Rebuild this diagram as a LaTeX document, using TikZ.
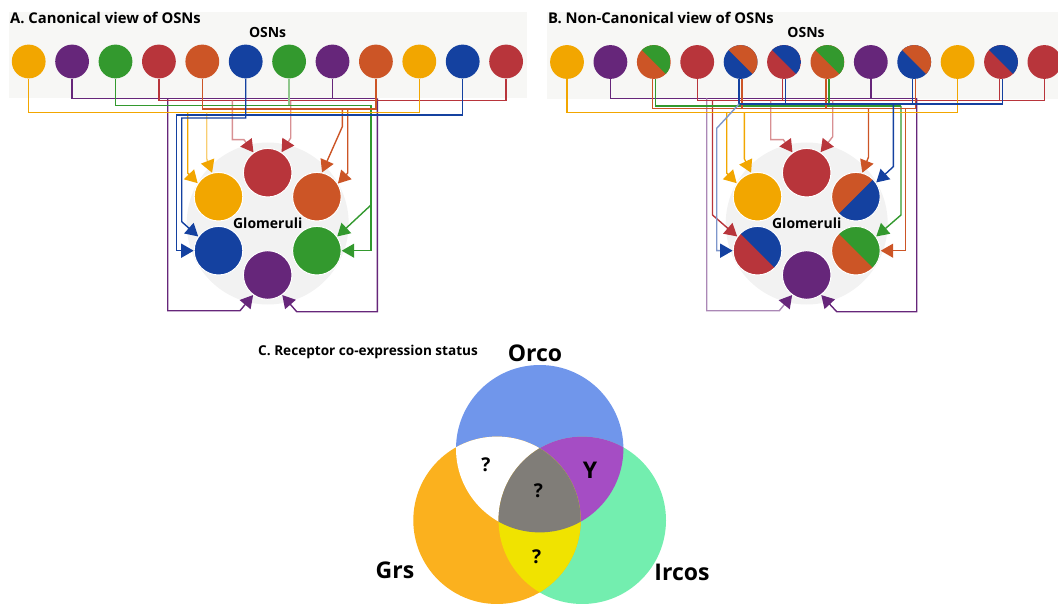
\documentclass[tikz,border=0pt]{standalone}
\usepackage{fontspec}
\setmainfont{Open Sans}
\usetikzlibrary{arrows.meta}
\definecolor{cY}{HTML}{F2A600}
\definecolor{cP}{HTML}{66267A}
\definecolor{cG}{HTML}{33992E}
\definecolor{cR}{HTML}{B8353B}
\definecolor{cO}{HTML}{CC5526}
\definecolor{cB}{HTML}{1441A0}
\definecolor{panelbg}{HTML}{F7F7F5}
\definecolor{glombg}{HTML}{F2F2F2}
\definecolor{vOrco}{HTML}{7096EB}
\definecolor{vGrs}{HTML}{FBB11E}
\definecolor{vIrc}{HTML}{73EEAF}
\definecolor{vPur}{HTML}{A54DC4}
\definecolor{vGry}{HTML}{807D78}
\definecolor{vYel}{HTML}{F0E300}
\pgfdeclarelayer{back}
\pgfdeclarelayer{wires}
\pgfsetlayers{back,wires,main}
\begin{document}
\begin{tikzpicture}[x=1pt,y=-1pt,
  osn/.style={circle,inner sep=0,minimum size=33.8pt,fill=#1},
  glom/.style={circle,inner sep=0,minimum size=48.6pt,draw=white,line width=1pt,fill=#1},
  bsplit/.style 2 args={fill=#1,path picture={\fill[#2] (path picture bounding box.north west) -- (path picture bounding box.north east) -- (path picture bounding box.south east) -- cycle;}},
  fsplit/.style 2 args={fill=#1,path picture={\fill[#2] (path picture bounding box.south west) -- (path picture bounding box.south east) -- (path picture bounding box.north east) -- cycle;}},
  wire/.style={draw=#1,line width=1.4pt},
  pwire/.style={draw=#1!55!white,line width=1.4pt},
  tip/.style={-{Triangle[length=12.5pt,width=14pt,color=#1]}},
  ttl/.style={font=\bfseries\fontsize{14.8}{16}\selectfont},
  sub/.style={font=\bfseries\fontsize{14}{16}\selectfont},
  big/.style={font=\bfseries\fontsize{23}{25}\selectfont},
  qm/.style={font=\bfseries\fontsize{19}{21}\selectfont}
]
\useasboundingbox (0,0) rectangle (1058,604);

% ---------- panel backgrounds
\begin{pgfonlayer}{back}
\fill[panelbg] (8.5,11.8) rectangle (527,98);
\fill[panelbg] (547,11.8) rectangle (1058,99);
\fill[glombg] (267.7,223.5) circle[radius=81pt];
\fill[glombg] (806.7,223.5) circle[radius=81pt];
\end{pgfonlayer}

% ---------- Panel A OSNs
\node[osn=cY] (a1) at (28.7,61.5) {};
\node[osn=cP] (a2) at (72.1,61.5) {};
\node[osn=cG] (a3) at (115.5,61.5) {};
\node[osn=cR] (a4) at (158.9,61.5) {};
\node[osn=cO] (a5) at (202.3,61.5) {};
\node[osn=cB] (a6) at (245.7,61.5) {};
\node[osn=cG] (a7) at (289.1,61.5) {};
\node[osn=cP] (a8) at (332.5,61.5) {};
\node[osn=cO] (a9) at (375.9,61.5) {};
\node[osn=cY] (a10) at (419.3,61.5) {};
\node[osn=cB] (a11) at (462.7,61.5) {};
\node[osn=cR] (a12) at (506.1,61.5) {};

% ---------- Panel A glomeruli
\node[glom=cR] (gAR) at (267.7,172.7) {};
\node[glom=cY] (gAY) at (218.5,196.7) {};
\node[glom=cO] (gAO) at (316.9,196.7) {};
\node[glom=cB] (gAB) at (218.5,250.7) {};
\node[glom=cG] (gAG) at (316.9,250.7) {};
\node[glom=cP] (gAP) at (267.7,275) {};

% ---------- Panel B OSNs
\node[osn=cY] (b1) at (567,62) {};
\node[osn=cP] (b2) at (610.4,62) {};
\node[osn=cO,bsplit={cO}{cG}] (b3) at (653.8,62) {};
\node[osn=cR] (b4) at (697.2,62) {};
\node[osn=cB,bsplit={cB}{cO}] (b5) at (740.6,62) {};
\node[osn=cR,bsplit={cR}{cB}] (b6) at (784,62) {};
\node[osn=cO,bsplit={cO}{cG}] (b7) at (827.4,62) {};
\node[osn=cP] (b8) at (870.8,62) {};
\node[osn=cB,bsplit={cB}{cO}] (b9) at (914.2,62) {};
\node[osn=cY] (b10) at (957.6,62) {};
\node[osn=cR,bsplit={cR}{cB}] (b11) at (1001,62) {};
\node[osn=cR] (b12) at (1044.4,62) {};

% ---------- Panel B glomeruli
\node[glom=cR] (gBR) at (806.7,172.7) {};
\node[glom=cY] (gBY) at (757.5,196.7) {};
\node[glom=cO,fsplit={cO}{cB}] (gBOB) at (855.9,196.7) {};
\node[glom=cR,bsplit={cR}{cB}] (gBRB) at (757.5,250.7) {};
\node[glom=cO,bsplit={cO}{cG}] (gBOG) at (855.9,250.7) {};
\node[glom=cP] (gBP) at (806.7,275) {};

% ---------- wires
\begin{pgfonlayer}{wires}
% A purple
\draw[wire=cP] (a2.south) |- (377.3,98.3);
\draw[wire=cP] (a8.south) -- (a8 |- 0,98.3);
\draw[wire=cP,tip=cP] (167.7,98.3) -- (167.7,310.7) -- (240,310.7) -- (gAP.234);
\draw[wire=cP,tip=cP] (377.3,98.3) -- (377.3,311.7) -- (296.7,311.7) -- (gAP.306);
% A red
\draw[wire=cR] (a4.south) |- (a12 |- 0,100.7) -- (a12.south);
\draw[pwire=cR,tip=cR] (232.3,100.7) -- (232.3,139.7) -- (244,139.7) -- (gAR.125);
\draw[pwire=cR,tip=cR] (290.7,100.7) -- (290.7,138) -- (gAR.56);
% A green
\draw[wire=cG,tip=cG] (a3.south) |- (371,105.3) -- (371,250.7) -- (gAG.0);
\draw[pwire=cG] (a7.south) -- (a7 |- 0,105.3);
\draw[wire=cG,tip=cG] (371,205) -- (gAG.35);
% A orange
\draw[wire=cO] (a5.south) |- (a9 |- 0,109) -- (a9.south);
\draw[wire=cO,tip=cO] (342.3,109) -- (342.3,126.7) -- (gAO.78);
\draw[wire=cO,tip=cO] (347.7,109) -- (347.7,173) -- (gAO.32);
% A yellow
\draw[wire=cY] (a1.south) |- (a10 |- 0,112.7) -- (a10.south);
\draw[wire=cY,tip=cY] (187.7,112.7) -- (187.7,173) -- (gAY.147);
\draw[pwire=cY,tip=cY] (206.7,112.7) -- (206.7,158.7) -- (gAY.105);
% A blue
\draw[wire=cB,tip=cB] (a11.south) |- (176.5,115) -- (176.5,250.7) -- (gAB.180);
\draw[wire=cB,tip=cB] (a6.south) |- (181.7,118) -- (181.7,221.7) -- (gAB.145);

% B purple
\draw[wire=cP] (b2.south) |- (916.7,98.3);
\draw[wire=cP] (b8.south) -- (b8 |- 0,98.3);
\draw[pwire=cP,tip=cP] (706.7,98.3) -- (706.7,310.7) -- (779.3,310.7) -- (gBP.234);
\draw[wire=cP,tip=cP] (916.7,98.3) -- (916.7,311.7) -- (836.7,311.7) -- (gBP.306);
% B red
\draw[wire=cR] (b4.south) |- (b12 |- 0,100.7) -- (b12.south);
\draw[wire=cR] (b6.-95) -- (b6.-95 |- 0,100.7);
\draw[wire=cR] (b11.-95) -- (b11.-95 |- 0,100.7);
\draw[wire=cR,tip=cR] (712.5,100.7) -- (712.5,215) -- (gBRB.145);
\draw[pwire=cR,tip=cR] (770.7,100.7) -- (770.7,139.7) -- (783.3,139.7) -- (gBR.125);
\draw[pwire=cR,tip=cR] (832.7,100.7) -- (832.7,136.7) -- (gBR.56);
% B green
\draw[wire=cG] (b3.-85) |- (901,106);
\draw[wire=cG] (b7.-85) -- (b7.-85 |- 0,106);
\draw[wire=cG,tip=cG] (901,106) -- (901,215) -- (gBOG.35);
% B orange
\draw[wire=cO] (b3.-95) |- (b9.-85 |- 0,108.7) -- (b9.-85);
\draw[wire=cO] (b5.-85) -- (b5.-85 |- 0,108.7);
\draw[wire=cO] (b7.-95) -- (b7.-95 |- 0,108.7);
\draw[wire=cO,tip=cO] (868.5,108.7) -- (868.5,157) -- (gBOB.75);
\draw[wire=cO,tip=cO] (905.5,108.7) -- (905.5,250.7) -- (gBOG.0);
% B yellow
\draw[wire=cY] (b1.south) |- (b10 |- 0,112.5) -- (b10.south);
\draw[wire=cY,tip=cY] (726.7,112.5) -- (726.7,173) -- (gBY.147);
\draw[wire=cY,tip=cY] (744.3,112.5) -- (744.3,158.7) -- (gBY.105);
% B blue
\draw[wire=cB] (b5.-95) |- (b11.-85 |- 0,104) -- (b11.-85);
\draw[wire=cB] (b6.-85) -- (b6.-85 |- 0,104);
\draw[wire=cB] (b9.-95) -- (b9.-95 |- 0,104);
\draw[pwire=cB,tip=cB] (b5.-95 |- 0,104) -- (716.7,128.3) -- (716.7,250.7) -- (gBRB.180);
\draw[wire=cB,tip=cB] (893.3,104) -- (893.3,166.7) -- (gBOB.35);
\end{pgfonlayer}

% ---------- texts A/B
\node[ttl,anchor=base west,inner sep=0] (tA) at (10,23.7) {A. Canonical view of OSNs};
\node[sub,anchor=base,inner sep=0] (oA) at (267.6,37.9) {OSNs};
\node[sub,anchor=base,inner sep=0] (glA) at (267.7,228.3) {Glomeruli};
\node[ttl,anchor=base west,inner sep=0] (tB) at (548,23.6) {B. Non-Canonical view of OSNs};
\node[sub,anchor=base,inner sep=0] (oB) at (806,37.9) {OSNs};
\node[sub,anchor=base,inner sep=0] (glB) at (806.7,228.3) {Glomeruli};

% ---------- Panel C Venn
\coordinate (vO) at (539.7,448.7);
\coordinate (vG) at (497,520.3);
\coordinate (vI) at (582.3,520.3);
\fill[vOrco] (vO) circle[radius=83.7pt];
\fill[vIrc] (vI) circle[radius=83.7pt];
\fill[vGrs] (vG) circle[radius=83.7pt];
\begin{scope}
  \clip (vO) circle[radius=83.7pt];
  \fill[white] (vG) circle[radius=83.7pt];
  \fill[vPur] (vI) circle[radius=83.7pt];
\end{scope}
\begin{scope}
  \clip (vG) circle[radius=83.7pt];
  \fill[vYel] (vI) circle[radius=83.7pt];
\end{scope}
\begin{scope}
  \clip (vO) circle[radius=83.7pt];
  \clip (vG) circle[radius=83.7pt];
  \fill[vGry] (vI) circle[radius=83.7pt];
\end{scope}
\node[font=\bfseries\fontsize{13.6}{15}\selectfont,anchor=base west,inner sep=0] (tC) at (258,355) {C. Receptor co-expression status};
\node[big,anchor=base,inner sep=0] (lO) at (535,361.7) {Orco};
\node[big,anchor=base,inner sep=0] (lG) at (395,578.3) {Grs};
\node[big,anchor=base,inner sep=0] (lI) at (682,580) {Ircos};
\node[qm] (q1) at (486,465) {?};
\node[big] (qY) at (590,470) {Y};
\node[qm] (q2) at (538.3,491) {?};
\node[qm] (q3) at (536.7,556.7) {?};
\end{tikzpicture}
\end{document}
